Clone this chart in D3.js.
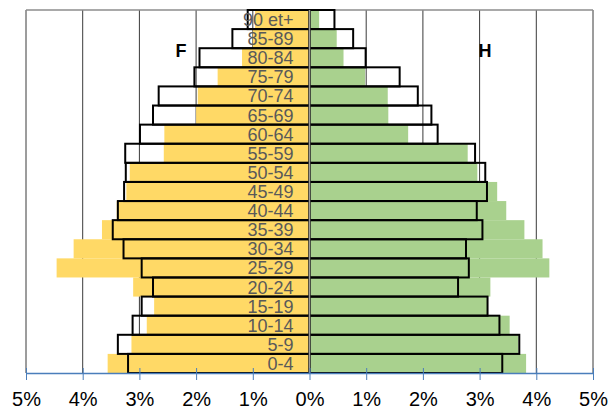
<!DOCTYPE html>
<html>
<head>
<meta charset="utf-8">
<script src="https://cdn.jsdelivr.net/npm/d3@7"></script>
<style>
  body { margin: 0; background: #fff; }
  svg { display: block; font-family: "Liberation Sans", Arial, sans-serif; }
</style>
</head>
<body>
<div id="chart"></div>
<script>
// age groups, bottom to top
var ages = ["0-4","5-9","10-14","15-19","20-24","25-29","30-34","35-39","40-44","45-49",
            "50-54","55-59","60-64","65-69","70-74","75-79","80-84","85-89","90 et+"];
// femmes (filled bars), %
var femmes = [3.56,3.14,2.87,2.74,3.11,4.46,4.16,3.66,3.40,3.23,
              3.17,2.57,2.56,2.00,1.97,1.62,1.19,1.00,0.96];
// femmes, reference outline, %
var femmesRef = [3.20,3.38,3.12,2.96,2.76,2.96,3.28,3.47,3.38,3.27,
                 3.24,3.25,2.99,2.76,2.66,2.03,1.94,1.36,1.09];
// hommes (filled bars), %
var hommes = [3.82,3.68,3.53,3.13,3.19,4.23,4.11,3.79,3.47,3.31,
              2.96,2.79,1.74,1.39,1.38,0.98,0.60,0.48,0.17];
// hommes, reference outline, %
var hommesRef = [3.40,3.70,3.35,3.14,2.62,2.81,2.76,3.05,2.95,3.13,
                 3.10,2.92,2.26,2.15,1.91,1.59,0.99,0.77,0.44];
var ticks = [-5,-4,-3,-2,-1,0,1,2,3,4,5];

var width = 609, height = 409;
var plotLeft = 26, plotRight = 593, plotTop = 10, plotBottom = 373;

var svg = d3.select("#chart").append("svg")
    .attr("width", width)
    .attr("height", height);

var x = d3.scaleLinear()
    .domain([-5, 5])
    .range([plotLeft, plotRight]);

var y = d3.scaleBand()
    .domain(ages)
    .range([plotBottom, plotTop])
    .padding(0);

// gridlines
svg.append("g").selectAll("line")
    .data(ticks.filter(function(d) { return d != 0; }))
    .enter().append("line")
    .attr("x1", function(d) { return x(d); })
    .attr("x2", function(d) { return x(d); })
    .attr("y1", plotTop)
    .attr("y2", plotBottom)
    .attr("stroke", "#3a3a3a")
    .attr("stroke-width", 1);

// top border
svg.append("line")
    .attr("x1", plotLeft).attr("x2", plotRight)
    .attr("y1", plotTop).attr("y2", plotTop)
    .attr("stroke", "#8c8c8c")
    .attr("stroke-width", 1.5);

// filled bars
svg.append("g").selectAll("rect")
    .data(femmes)
    .enter().append("rect")
    .attr("x", function(d) { return x(-d); })
    .attr("y", function(d, i) { return y(ages[i]); })
    .attr("width", function(d) { return x(0) - x(-d); })
    .attr("height", y.bandwidth())
    .attr("fill", "#ffd966");

svg.append("g").selectAll("rect")
    .data(hommes)
    .enter().append("rect")
    .attr("x", x(0))
    .attr("y", function(d, i) { return y(ages[i]); })
    .attr("width", function(d) { return x(d) - x(0); })
    .attr("height", y.bandwidth())
    .attr("fill", "#a9d18e");

// reference outlines
svg.append("g").selectAll("rect")
    .data(femmesRef)
    .enter().append("rect")
    .attr("x", function(d) { return x(-d); })
    .attr("y", function(d, i) { return y(ages[i]); })
    .attr("width", function(d) { return x(0) - x(-d); })
    .attr("height", y.bandwidth())
    .attr("fill", "none")
    .attr("stroke", "#000")
    .attr("stroke-width", 2);

svg.append("g").selectAll("rect")
    .data(hommesRef)
    .enter().append("rect")
    .attr("x", x(0))
    .attr("y", function(d, i) { return y(ages[i]); })
    .attr("width", function(d) { return x(d) - x(0); })
    .attr("height", y.bandwidth())
    .attr("fill", "none")
    .attr("stroke", "#000")
    .attr("stroke-width", 2);

// zero line
svg.append("line")
    .attr("x1", x(0)).attr("x2", x(0))
    .attr("y1", plotTop).attr("y2", plotBottom)
    .attr("stroke", "#999")
    .attr("stroke-width", 1.5);

// age labels
svg.append("g").selectAll("text")
    .data(ages)
    .enter().append("text")
    .attr("x", x(0) - 16)
    .attr("y", function(d) { return y(d) + y.bandwidth() / 2; })
    .attr("dy", "0.36em")
    .attr("text-anchor", "end")
    .attr("fill", "#595959")
    .style("font-size", "18px")
    .text(function(d) { return d; });

// F / H
svg.append("text")
    .attr("x", 181).attr("y", 57)
    .attr("text-anchor", "middle")
    .style("font-size", "18px")
    .style("font-weight", "bold")
    .text("F");
svg.append("text")
    .attr("x", 485).attr("y", 57)
    .attr("text-anchor", "middle")
    .style("font-size", "18px")
    .style("font-weight", "bold")
    .text("H");

// x axis
var axis = svg.append("g")
    .attr("transform", "translate(0," + plotBottom + ")")
    .call(d3.axisBottom(x)
        .tickValues(ticks)
        .tickSizeOuter(0)
        .tickFormat(function(d) { return Math.abs(d) + "%"; }));

axis.select(".domain")
    .attr("stroke", "#4a7ebb")
    .attr("stroke-width", 1.5);
axis.selectAll(".tick line")
    .attr("stroke", "#4a7ebb")
    .attr("y1", -5)
    .attr("y2", 7);
axis.selectAll(".tick text")
    .attr("y", 19)
    .attr("fill", "#000")
    .style("font-size", "20px")
    .style("font-family", "Liberation Sans, Arial, sans-serif");
</script>
</body>
</html>
